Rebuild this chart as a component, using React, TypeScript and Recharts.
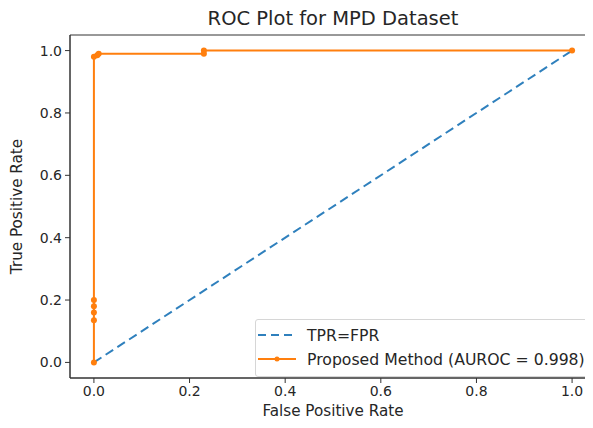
import React from "react";
import {
  LineChart,
  Line,
  XAxis,
  YAxis,
  ReferenceArea,
} from "recharts";

const fpr = [0, 0, 0, 0, 0, 0, 0.007, 0.01, 0.23, 0.23, 1.0];
const tpr = [0, 0.135, 0.16, 0.18, 0.2, 0.98, 0.985, 0.99, 0.99, 1.0, 1.0];
const chanceX = [0, 1];
const chanceY = [0, 1];
const ticks = [0, 0.2, 0.4, 0.6, 0.8, 1.0];

const rocData = fpr.map((x, i) => ({ x, y: tpr[i] }));
const chanceData = chanceX.map((x, i) => ({ x, y: chanceY[i] }));

const FONT = "'DejaVu Sans', sans-serif";
const BLUE = "#2f80bd";
const ORANGE = "#ff7f0e";
const TEXT = "#262626";

function LegendBox() {
  return (
    <div
      style={{
        position: "absolute",
        left: 255,
        top: 319,
        width: 334,
        height: 58,
        border: "1px solid #d6d6d6",
        borderRadius: 3,
        background: "rgba(255,255,255,0.85)",
        fontFamily: FONT,
        fontSize: 15.7,
        color: TEXT,
        padding: "3px 2px",
        boxSizing: "border-box",
      }}
    >
      <div style={{ display: "flex", alignItems: "center", height: 24, whiteSpace: "nowrap" }}>
        <svg width={38} height={10} style={{ flex: "none" }}>
          <line x1={0} y1={5} x2={38} y2={5} stroke={BLUE} strokeWidth={2} strokeDasharray="8 5" />
        </svg>
        <span style={{ marginLeft: 11 }}>TPR=FPR</span>
      </div>
      <div style={{ display: "flex", alignItems: "center", height: 24, whiteSpace: "nowrap" }}>
        <svg width={38} height={10} style={{ flex: "none" }}>
          <line x1={0} y1={5} x2={38} y2={5} stroke={ORANGE} strokeWidth={2} />
          <circle cx={19} cy={5} r={2.5} fill={ORANGE} />
        </svg>
        <span style={{ marginLeft: 11 }}>Proposed Method (AUROC = 0.998)</span>
      </div>
    </div>
  );
}

export default function App() {
  return (
    <div style={{ margin: -8, width: 593, height: 428, overflow: "hidden", position: "relative", background: "#fff" }}>
      <div
        style={{
          position: "absolute",
          left: 70,
          width: 526,
          top: 8,
          lineHeight: "22px",
          textAlign: "center",
          fontFamily: FONT,
          fontSize: 19.5,
          color: TEXT,
        }}
      >
        ROC Plot for MPD Dataset
      </div>
      <LineChart width={600} height={428} margin={{ top: 35, right: 4, bottom: 0, left: 0 }}>
        <XAxis
          type="number"
          dataKey="x"
          domain={[-0.05, 1.05]}
          ticks={ticks}
          tickFormatter={(v: number) => v.toFixed(1)}
          allowDataOverflow
          height={50}
          tickSize={5}
          tickMargin={3}
          stroke="#333"
          tick={{ fill: TEXT, fontSize: 14, fontFamily: FONT }}
          label={{ value: "False Positive Rate", position: "insideBottom", offset: 12, fill: TEXT, fontSize: 15.2, fontFamily: FONT }}
        />
        <YAxis
          type="number"
          dataKey="y"
          domain={[-0.05, 1.05]}
          ticks={ticks}
          tickFormatter={(v: number) => v.toFixed(1)}
          allowDataOverflow
          width={70}
          tickSize={5}
          tickMargin={3}
          stroke="#333"
          tick={{ fill: TEXT, fontSize: 14, fontFamily: FONT }}
          label={{ value: "True Positive Rate", angle: -90, position: "insideLeft", offset: 17, fill: TEXT, fontSize: 15.2, fontFamily: FONT, style: { textAnchor: "middle" } }}
        />
        <ReferenceArea x1={-0.05} x2={1.05} y1={-0.05} y2={1.05} fill="none" stroke="#333" strokeWidth={1} ifOverflow="visible" />
        <Line
          data={chanceData}
          dataKey="y"
          type="linear"
          stroke={BLUE}
          strokeWidth={2}
          strokeDasharray="9 5"
          dot={false}
          isAnimationActive={false}
        />
        <Line
          data={rocData}
          dataKey="y"
          type="linear"
          stroke={ORANGE}
          strokeWidth={2}
          dot={{ r: 3, fill: ORANGE, stroke: ORANGE, strokeWidth: 0 }}
          isAnimationActive={false}
        />
      </LineChart>
      <LegendBox />
    </div>
  );
}
